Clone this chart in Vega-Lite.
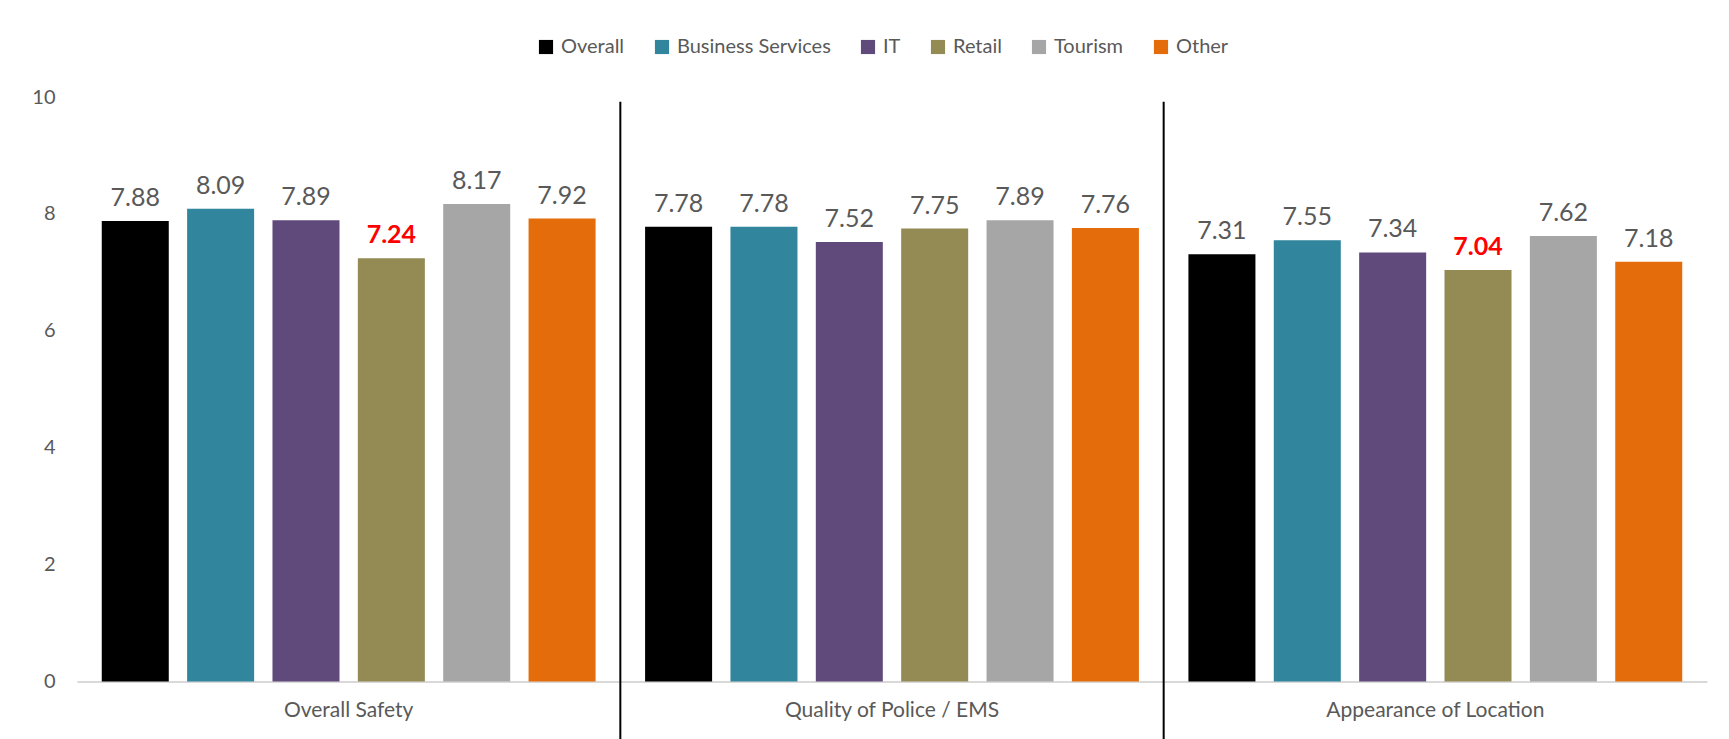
{
  "$schema": "https://vega.github.io/schema/vega-lite/v6.json",
  "autosize": "none",
  "width": 1630,
  "height": 584.5,
  "padding": {"left": 77, "top": 97, "right": 22, "bottom": 57.5},
  "background": "white",
  "config": {
    "view": {"stroke": null},
    "font": "Lato",
    "axis": {"labelFont": "Lato", "labelColor": "#595959", "grid": false, "ticks": false, "title": null}
  },
  "data": {
    "values": [
      {"category": "Overall Safety", "group": "Overall", "value": 7.88},
      {"category": "Overall Safety", "group": "Business Services", "value": 8.09},
      {"category": "Overall Safety", "group": "IT", "value": 7.89},
      {"category": "Overall Safety", "group": "Retail", "value": 7.24},
      {"category": "Overall Safety", "group": "Tourism", "value": 8.17},
      {"category": "Overall Safety", "group": "Other", "value": 7.92},
      {"category": "Quality of Police / EMS", "group": "Overall", "value": 7.78},
      {"category": "Quality of Police / EMS", "group": "Business Services", "value": 7.78},
      {"category": "Quality of Police / EMS", "group": "IT", "value": 7.52},
      {"category": "Quality of Police / EMS", "group": "Retail", "value": 7.75},
      {"category": "Quality of Police / EMS", "group": "Tourism", "value": 7.89},
      {"category": "Quality of Police / EMS", "group": "Other", "value": 7.76},
      {"category": "Appearance of Location", "group": "Overall", "value": 7.31},
      {"category": "Appearance of Location", "group": "Business Services", "value": 7.55},
      {"category": "Appearance of Location", "group": "IT", "value": 7.34},
      {"category": "Appearance of Location", "group": "Retail", "value": 7.04},
      {"category": "Appearance of Location", "group": "Tourism", "value": 7.62},
      {"category": "Appearance of Location", "group": "Other", "value": 7.18}
    ]
  },
  "encoding": {
    "x": {
      "field": "category", "type": "nominal",
      "sort": ["Overall Safety", "Quality of Police / EMS", "Appearance of Location"],
      "scale": {"paddingInner": 0, "paddingOuter": 0},
      "axis": {"labelAngle": 0, "labelFontSize": 21, "labelPadding": 18, "labelLimit": 0, "domainColor": "#D9D9D9", "domainWidth": 2}
    }
  },
  "layer": [
    {
      "mark": {"type": "bar"},
      "encoding": {
        "xOffset": {
          "field": "group", "type": "nominal",
          "sort": ["Overall", "Business Services", "IT", "Retail", "Tourism", "Other"],
          "scale": {"paddingInner": 0.215, "paddingOuter": 0.29}
        },
        "y": {
          "field": "value", "type": "quantitative",
          "scale": {"domain": [0, 10]},
          "axis": {"values": [0, 2, 4, 6, 8, 10], "format": "d", "labelFontSize": 20, "labelPadding": 22, "domain": false}
        },
        "color": {
          "field": "group", "type": "nominal",
          "scale": {
            "domain": ["Overall", "Business Services", "IT", "Retail", "Tourism", "Other"],
            "range": ["#000000", "#31859C", "#604A7B", "#948A54", "#A6A6A6", "#E46C0A"]
          },
          "legend": {
            "title": null,
            "orient": "none",
            "direction": "horizontal",
            "legendX": 459,
            "legendY": -60,
            "symbolType": "square",
            "symbolSize": 200,
            "symbolStrokeWidth": 0,
            "labelFont": "Lato",
            "labelFontSize": 20,
            "labelColor": "#595959",
            "labelOffset": 5,
            "columnPadding": 27
          }
        }
      }
    },
    {
      "transform": [{"filter": "!(datum.group === 'Retail' && datum.category !== 'Quality of Police / EMS')"}],
      "mark": {"type": "text", "baseline": "alphabetic", "dy": -15, "fontSize": 25, "color": "#595959", "font": "Lato"},
      "encoding": {
        "xOffset": {"field": "group", "type": "nominal", "sort": ["Overall", "Business Services", "IT", "Retail", "Tourism", "Other"]},
        "y": {"field": "value", "type": "quantitative"},
        "text": {"field": "value", "type": "quantitative", "format": ".2f"}
      }
    },
    {
      "transform": [{"filter": "datum.group === 'Retail' && datum.category !== 'Quality of Police / EMS'"}],
      "mark": {"type": "text", "baseline": "alphabetic", "dy": -15, "fontSize": 25, "fontWeight": "bold", "color": "#FF0000", "font": "Lato"},
      "encoding": {
        "xOffset": {"field": "group", "type": "nominal", "sort": ["Overall", "Business Services", "IT", "Retail", "Tourism", "Other"]},
        "y": {"field": "value", "type": "quantitative"},
        "text": {"field": "value", "type": "quantitative", "format": ".2f"}
      }
    },
    {
      "data": {"values": [{"category": "Quality of Police / EMS"}, {"category": "Appearance of Location"}]},
      "mark": {"type": "rule", "color": "#000000", "strokeWidth": 2},
      "encoding": {
        "x": {"field": "category", "type": "nominal", "bandPosition": 0},
        "y": {"datum": 9.92, "type": "quantitative"},
        "y2": {"datum": -1}
      }
    }
  ]
}
